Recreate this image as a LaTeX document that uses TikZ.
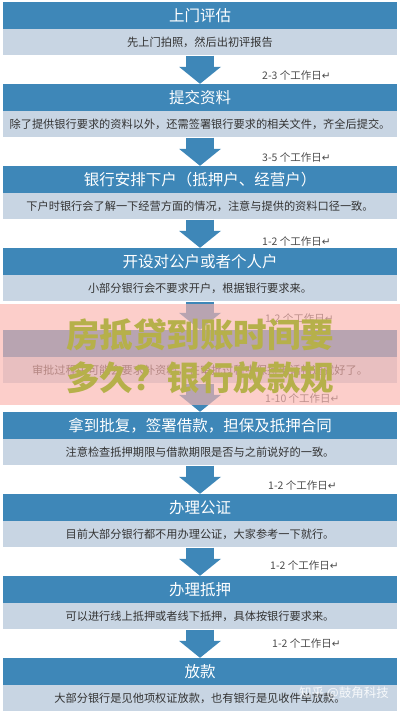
\documentclass[tikz,border=0pt]{standalone}
\usepackage{fontspec}
\setmainfont{Noto Sans CJK SC}
\newfontfamily\retfont{DejaVu Sans}
\usetikzlibrary{positioning,arrows.meta}
\definecolor{stepblue}{RGB}{62,135,184}
\definecolor{notegray}{RGB}{200,213,227}
\definecolor{daytext}{RGB}{75,75,75}
\definecolor{veilpink}{RGB}{250,180,174}
\definecolor{titleolive}{RGB}{182,176,74}

\begin{document}
\begin{tikzpicture}[x=1pt,y=-1pt,
		head/.style={fill=stepblue,text=white,minimum width=394pt,minimum height=27pt,inner sep=0pt,font=\fontsize{15.5}{16}\selectfont},
		note/.style={below=0pt of #1,fill=notegray,text=black!80,minimum width=394pt,minimum height=26pt,inner sep=0pt,font=\fontsize{11.2}{12}\selectfont},
		flow/.style={draw=stepblue,line width=28pt,-{Triangle[width=42pt,length=17pt,line width=0pt]}},
		days/.style={anchor=west,text=daytext,inner sep=0pt,font=\fontsize{10.5}{11}\selectfont},
		banner/.style={text=titleolive,inner sep=0pt,font=\fontsize{33.5}{34}\selectfont\bfseries}]
			\useasboundingbox (0,0) rectangle (400,714);
			\node[head] (h1) at (200,15.5) {上门评估};
			\node[note=h1] (n1) {先上门拍照，然后出初评报告};
			\node[head] (h2) at (200,97.5) {提交资料};
			\node[note=h2] (n2) {除了提供银行要求的资料以外，还需签署银行要求的相关文件，齐全后提交。};
			\node[head] (h3) at (200,179.5) {银行安排下户（抵押户、经营户）};
			\node[note=h3] (n3) {下户时银行会了解一下经营方面的情况，注意与提供的资料口径一致。};
			\node[head] (h4) at (200,261.5) {开设对公户或者个人户};
			\node[note=h4] (n4) {小部分银行会不要求开户，根据银行要求来。};
			\node[head] (h5) at (200,343.5) {};
			\node[note=h5] (n5) {审批过程中可能会要求补资料，在审批过程中保持电话畅通就好了。};
			\node[head] (h6) at (200,425.5) {拿到批复，签署借款，担保及抵押合同};
			\node[note=h6] (n6) {注意检查抵押期限与借款期限是否与之前说好的一致。};
			\node[head] (h7) at (200,507.5) {办理公证};
			\node[note=h7] (n7) {目前大部分银行都不用办理公证，大家参考一下就行。};
			\node[head] (h8) at (200,589.5) {办理抵押};
			\node[note=h8] (n8) {可以进行线上抵押或者线下抵押，具体按银行要求来。};
			\node[head] (h9) at (200,671.5) {放款};
			\node[note=h9] (n9) {大部分银行是见他项权证放款，也有银行是见收件单放款。};
			\draw[flow] (n1.south) -- (h2.north);
			\draw[flow] (n2.south) -- (h3.north);
			\draw[flow] (n3.south) -- (h4.north);
			\draw[flow] (n4.south) -- (h5.north);
			\draw[flow] (n5.south) -- (h6.north);
			\draw[flow] (n6.south) -- (h7.north);
			\draw[flow] (n7.south) -- (h8.north);
			\draw[flow] (n8.south) -- (h9.north);
			\node[days] (d1) at (262,76) {2-3 个工作日{\retfont ↵}};
			\node[days] (d2) at (262,157) {3-5 个工作日{\retfont ↵}};
			\node[days] (d3) at (262,241) {1-2 个工作日{\retfont ↵}};
			\node[days] (d4) at (265,318) {1-2 个工作日{\retfont ↵}};
			\node[days] (d5) at (265,398) {1-10 个工作日{\retfont ↵}};
			\node[days] (d6) at (268,485) {1-2 个工作日{\retfont ↵}};
			\node[days] (d7) at (270,565) {1-2 个工作日{\retfont ↵}};
			\node[days] (d8) at (272,643) {1-2 个工作日{\retfont ↵}};
			\fill[veilpink,opacity=0.65] (0,304) rectangle (400,405);
			\node[banner] (t1) at (200,335) {房抵贷到账时间要};
			\node[banner] (t2) at (200,378) {多久？银行放款规};
			\node[anchor=east,text=white,opacity=0.85,inner sep=0pt,font=\fontsize{12.5}{13}\selectfont] (mark) at (389,693) {知乎 @鼓角科技};
		\end{tikzpicture}
\end{document}
